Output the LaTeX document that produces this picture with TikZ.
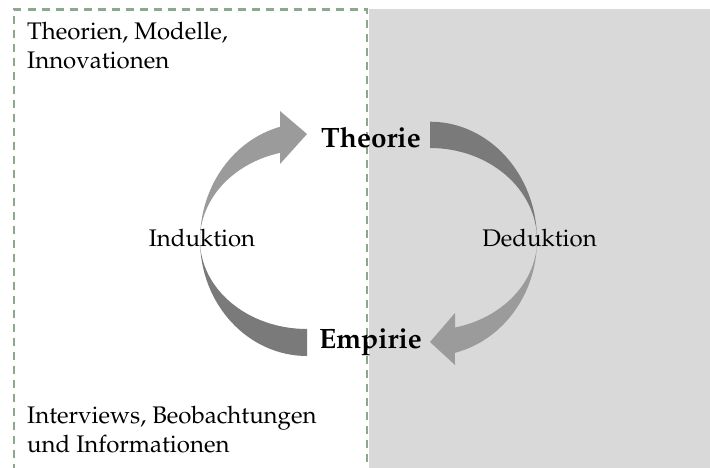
\documentclass[tikz,border=0pt]{standalone}
\usepackage[T1]{fontenc}
\usepackage{mathpazo}
\definecolor{bggray}{HTML}{D9D9D9}
\definecolor{dashgreen}{HTML}{8DA98D}
\definecolor{arrlight}{HTML}{9B9B9B}
\definecolor{arrdark}{HTML}{7A7A7A}
\tikzset{
  regtext/.style={inner sep=0pt, font=\fontsize{24}{29}\selectfont, align=left},
  boldtext/.style={inner sep=0pt, font=\fontsize{28}{32}\selectfont\bfseries},
  lightpart/.style={fill=arrlight, draw=none},
  darkpart/.style={fill=arrdark, draw=none},
  frame/.style={draw=dashgreen, line width=2.2pt, dash pattern=on 8pt off 6pt}
}
\begin{document}
\begin{tikzpicture}[x=1pt,y=1pt]
\useasboundingbox (0,0) rectangle (710,-468);
\clip (0,0) rectangle (710,-468);
% background panel
\fill[bggray] (369,-9.5) rectangle (712,-470);
% dashed frame
\draw[frame] (14,-472) -- (14,-9.5) -- (366.7,-9.5) -- (366.7,-472);
% left arrow (Induktion), centre (307,-240)
\path[darkpart] (307,-356) arc[start angle=270, end angle=180, x radius=107pt, y radius=116pt]
  arc[start angle=180, end angle=270, x radius=107pt, y radius=89pt] -- cycle;
\path[lightpart] (200,-240) arc[start angle=180, end angle=104.6, x radius=107pt, y radius=117pt]
  -- (280,-111) -- (307,-134) -- (280,-164) -- (280,-152.9)
  arc[start angle=104.6, end angle=180, x radius=107pt, y radius=90pt] -- cycle;
% right arrow (Deduktion), centre (430,-240)
\path[darkpart] (430,-121.7) arc[start angle=90, end angle=0, x radius=107pt, y radius=118.3pt]
  arc[start angle=0, end angle=90, x radius=107pt, y radius=92pt] -- cycle;
\path[lightpart] (537,-240) arc[start angle=0, end angle=-76.5, x radius=107pt, y radius=116pt]
  -- (455,-365) -- (430,-342) -- (455,-313) -- (455,-327.5)
  arc[start angle=-76.5, end angle=0, x radius=107pt, y radius=90pt] -- cycle;
% texts (base anchor of a two-line node = baseline of its last line)
\node[regtext, anchor=base west] (top) at (27,-68.3) {Theorien, Modelle,\\Innovationen};
\node[regtext, anchor=base west] (bottom) at (27,-452.7) {Interviews, Beobachtungen\\und Informationen};
\node[boldtext, anchor=base] (theorie) at (371,-147.7) {Theorie};
\node[boldtext, anchor=base] (empirie) at (370.5,-348) {Empirie};
\node[regtext, anchor=base] (induktion) at (202,-246.7) {Induktion};
\node[regtext, anchor=base] (deduktion) at (539.5,-246.7) {Deduktion};
\end{tikzpicture}
\end{document}
